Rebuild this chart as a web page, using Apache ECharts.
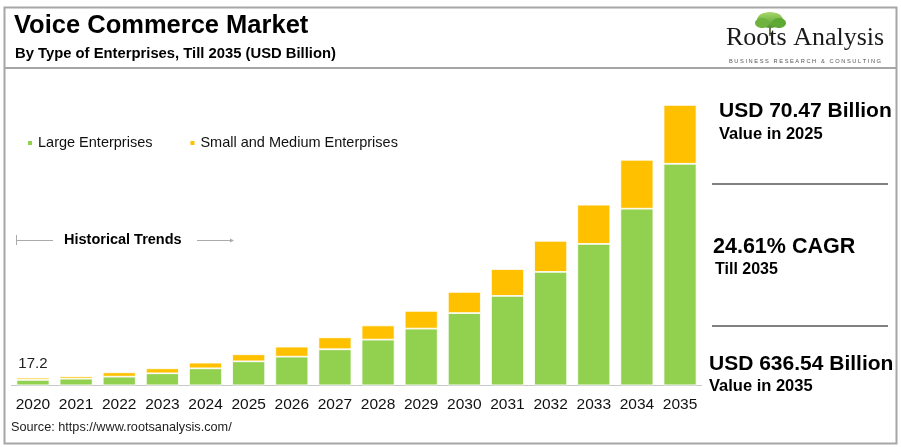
<!DOCTYPE html>
<html>
<head>
<meta charset="utf-8">
<script src="https://cdn.jsdelivr.net/npm/echarts@6/dist/echarts.min.js"></script>
<style>
html,body{margin:0;padding:0;background:#fff;}
#chart{width:901px;height:447px;}
</style>
</head>
<body>
<div id="chart"></div>
<script>
var years = ['2020','2021','2022','2023','2024','2025','2026','2027','2028','2029','2030','2031','2032','2033','2034','2035'];
var largeEnterprises = [12.2, 15.0, 19.6, 27.3, 38.6, 54.5, 65.0, 81.8, 103.7, 128.7, 164.0, 203.0, 257.5, 321.0, 401.0, 503.0];
var smeEnterprises = [5.0, 5.5, 9.9, 11.3, 12.8, 16.0, 22.8, 27.2, 32.3, 40.3, 48.0, 61.0, 70.5, 89.0, 111.0, 133.5];
var firstLabel = '17.2';

var F = '"Liberation Sans", Arial, sans-serif';
var chart = echarts.init(document.getElementById('chart'));

var smeData = smeEnterprises.map(function (v, i) {
  if (i === 0) {
    return { value: v, label: { show: true, position: 'top', formatter: firstLabel, fontSize: 15, color: '#222', fontFamily: F, distance: 6 } };
  }
  return v;
});

var option = {
  animation: false,
  backgroundColor: '#fff',
  grid: { left: 11.4, right: 199.4, top: 77, bottom: 61.7, containLabel: false },
  legend: {
    left: 26, top: 135.5, padding: 0,
    icon: 'rect', itemWidth: 6, itemHeight: 6, itemGap: 36,
    textStyle: { fontFamily: F, fontSize: 14.5, color: '#111' },
    data: ['Large Enterprises', 'Small and Medium Enterprises']
  },
  xAxis: {
    type: 'category',
    data: years,
    axisLine: { lineStyle: { color: '#c8c8c8', width: 1 } },
    axisTick: { show: false },
    axisLabel: { interval: 0, fontFamily: F, fontSize: 15.5, color: '#111', margin: 11 }
  },
  yAxis: {
    type: 'value', min: 0, max: 700, show: false,
    splitLine: { show: false }
  },
  series: [
    {
      name: 'Large Enterprises', type: 'bar', stack: 'total', barWidth: 33,
      itemStyle: { color: '#92d050', borderColor: '#fff', borderWidth: 0.8 },
      data: largeEnterprises
    },
    {
      name: 'Small and Medium Enterprises', type: 'bar', stack: 'total', barWidth: 33,
      itemStyle: { color: '#ffc000', borderColor: '#fff', borderWidth: 0.8 },
      data: smeData
    }
  ],
  graphic: [
    // outer frame
    { type: 'rect', shape: { x: 4.5, y: 7.5, width: 892, height: 436 }, style: { fill: 'none', stroke: '#a6a6a6', lineWidth: 2 }, z: 0 },
    { type: 'line', shape: { x1: 4, y1: 68, x2: 897, y2: 68 }, style: { stroke: '#a6a6a6', lineWidth: 2 } },
    // titles
    { type: 'text', left: 14, top: 13, style: { text: 'Voice Commerce Market', font: 'bold 25.5px ' + F, fill: '#000' } },
    { type: 'text', left: 15, top: 46, style: { text: 'By Type of Enterprises, Till 2035 (USD Billion)', font: 'bold 14.8px ' + F, fill: '#000' } },
    // logo tree
    { type: 'ellipse', shape: { cx: 770, cy: 20, rx: 13, ry: 8 }, style: { fill: new echarts.graphic.LinearGradient(0, 0, 0, 1, [{ offset: 0, color: '#a8d86a' }, { offset: 1, color: '#4e9a2a' }]) } },
    { type: 'ellipse', shape: { cx: 762, cy: 23, rx: 7, ry: 5 }, style: { fill: '#6fb33e' } },
    { type: 'ellipse', shape: { cx: 779, cy: 23, rx: 7, ry: 5 }, style: { fill: '#5ea834' } },
    { type: 'line', shape: { x1: 770, y1: 26, x2: 770, y2: 36 }, style: { stroke: '#6b7b4a', lineWidth: 2 } },
    { type: 'text', left: 726, top: 25, style: { text: 'Roots Analysis', font: '26px "Liberation Serif", "DejaVu Serif", serif', fill: '#1a1a1a' } },
    { type: 'text', left: 729, top: 58, style: { text: 'B U S I N E S S   R E S E A R C H   &   C O N S U L T I N G', font: '5.7px ' + F, fill: '#555' } },
    // historical trends
    { type: 'line', shape: { x1: 16, y1: 240.5, x2: 53, y2: 240.5 }, style: { stroke: '#aaa', lineWidth: 1 } },
    { type: 'line', shape: { x1: 16.5, y1: 235, x2: 16.5, y2: 245 }, style: { stroke: '#aaa', lineWidth: 1 } },
    { type: 'text', left: 64, top: 232, style: { text: 'Historical Trends', font: 'bold 14.5px ' + F, fill: '#000' } },
    { type: 'line', shape: { x1: 197, y1: 240.5, x2: 232, y2: 240.5 }, style: { stroke: '#aaa', lineWidth: 1 } },
    { type: 'polygon', shape: { points: [[234, 240.5], [230, 238.5], [230, 242.5]] }, style: { fill: '#aaa' } },
    // right panel
    { type: 'text', left: 719, top: 101, style: { text: 'USD 70.47 Billion', font: 'bold 21px ' + F, fill: '#000' } },
    { type: 'text', left: 719, top: 126, style: { text: 'Value in 2025', font: 'bold 16.5px ' + F, fill: '#000' } },
    { type: 'line', shape: { x1: 712, y1: 184, x2: 888, y2: 184 }, style: { stroke: '#808080', lineWidth: 2 } },
    { type: 'text', left: 713, top: 236, style: { text: '24.61% CAGR', font: 'bold 21.5px ' + F, fill: '#000' } },
    { type: 'text', left: 715, top: 262, style: { text: 'Till 2035', font: 'bold 16px ' + F, fill: '#000' } },
    { type: 'line', shape: { x1: 712, y1: 326, x2: 888, y2: 326 }, style: { stroke: '#808080', lineWidth: 2 } },
    { type: 'text', left: 709, top: 354, style: { text: 'USD 636.54 Billion', font: 'bold 21px ' + F, fill: '#000' } },
    { type: 'text', left: 709, top: 378, style: { text: 'Value in 2035', font: 'bold 16.5px ' + F, fill: '#000' } },
    // source
    { type: 'text', left: 11, top: 421, style: { text: 'Source: https://www.rootsanalysis.com/', font: '12.7px ' + F, fill: '#222' } }
  ]
};
chart.setOption(option);
</script>
</body>
</html>
